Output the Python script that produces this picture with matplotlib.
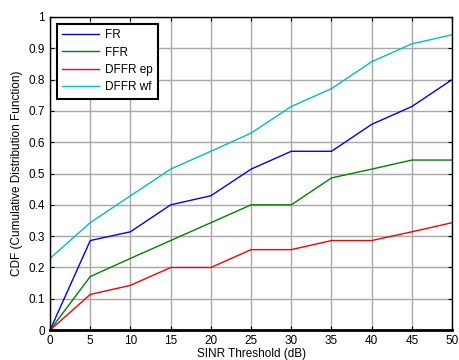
import numpy as np
import matplotlib.pyplot as plt

plt.rcParams['font.family'] = ['Liberation Sans', 'DejaVu Sans']

# data
snr = [0, 5, 10, 15, 20, 25, 30, 35, 40, 45, 50]
fr = [0, 0.286, 0.314, 0.400, 0.429, 0.514, 0.571, 0.571, 0.657, 0.714, 0.800]
ffr = [0, 0.171, 0.229, 0.286, 0.343, 0.400, 0.400, 0.486, 0.514, 0.543, 0.543]
dffr_ep = [0, 0.114, 0.143, 0.200, 0.200, 0.257, 0.257, 0.286, 0.286, 0.314, 0.343]
dffr_wf = [0.229, 0.343, 0.429, 0.514, 0.571, 0.629, 0.714, 0.771, 0.857, 0.914, 0.943]

fig = plt.figure(figsize=(4.59, 3.6), dpi=100)
ax = fig.add_axes([0.109, 0.083, 0.876, 0.870])

ax.plot(snr, fr, color='#0000ff', lw=1, label='FR')
ax.plot(snr, ffr, color='#008000', lw=1, label='FFR')
ax.plot(snr, dffr_ep, color='#ff0000', lw=1, label='DFFR ep')
ax.plot(snr, dffr_wf, color='#00bfbf', lw=1, label='DFFR wf')

ax.set_xlim(0, 50)
ax.set_ylim(0, 1)
ax.set_xticks(np.arange(0, 51, 5))
ax.set_yticks(np.arange(0, 1.01, 0.1))
ax.set_yticklabels(['0', '0.1', '0.2', '0.3', '0.4', '0.5', '0.6', '0.7', '0.8', '0.9', '1'])
ax.grid(True, color='#a8a8a8', lw=1, ls='-')
ax.set_axisbelow(True)
ax.tick_params(direction='in', top=True, right=True, labelsize=8.5, length=3)
for s in ax.spines.values():
    s.set_linewidth(1)
ax.spines['bottom'].set_linewidth(2)

ax.set_xlabel('SINR Threshold (dB)', fontsize=8.5, labelpad=1)
ax.set_ylabel('CDF (Cumulative Distribution Function)', fontsize=8.5, labelpad=4)

leg = ax.legend(loc='upper left', fontsize=8.5, fancybox=False, framealpha=1,
                edgecolor='black', borderaxespad=0.6, handlelength=3.1,
                handletextpad=0.5, labelspacing=0.45, borderpad=0.45)
leg.get_frame().set_linewidth(1.5)

fig.savefig('out.png', dpi=100)
